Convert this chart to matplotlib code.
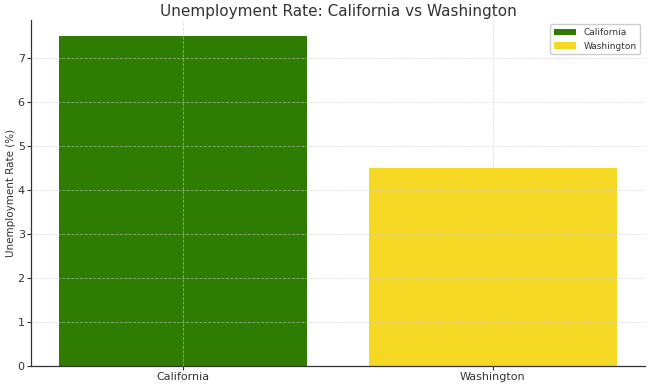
import matplotlib
matplotlib.use("Agg")
import matplotlib.pyplot as plt

# Data
states = ["California", "Washington"]
rates = [7.5, 4.5]
colors = ["#2e7d02", "#f5d824"]

plt.rcParams["text.color"] = "#333333"
plt.rcParams["axes.labelcolor"] = "#333333"
plt.rcParams["xtick.color"] = "#333333"
plt.rcParams["ytick.color"] = "#333333"

fig = plt.figure(figsize=(6.52, 3.84), dpi=100)
ax = fig.add_axes([0.0475, 0.047, 0.9415, 0.901])

bars = ax.bar(states, rates, color=colors, width=0.8, label=states)

ax.set_title("Unemployment Rate: California vs Washington", fontsize=11, pad=3)
ax.set_ylabel("Unemployment Rate (%)", fontsize=7.5, labelpad=1)
ax.tick_params(labelsize=8, length=3, width=0.8, pad=1.5)
ax.set_axisbelow(False)
ax.grid(True, linestyle="--", linewidth=0.6, color="#cccccc", alpha=0.6)

for side in ["top", "right"]:
    ax.spines[side].set_visible(False)
for side in ["left", "bottom"]:
    ax.spines[side].set_color("#333333")
    ax.spines[side].set_linewidth(0.9)

ax.legend(loc="upper right", fontsize=6.5, handlelength=2.5, framealpha=1)

fig.savefig("out.png", dpi=100)
